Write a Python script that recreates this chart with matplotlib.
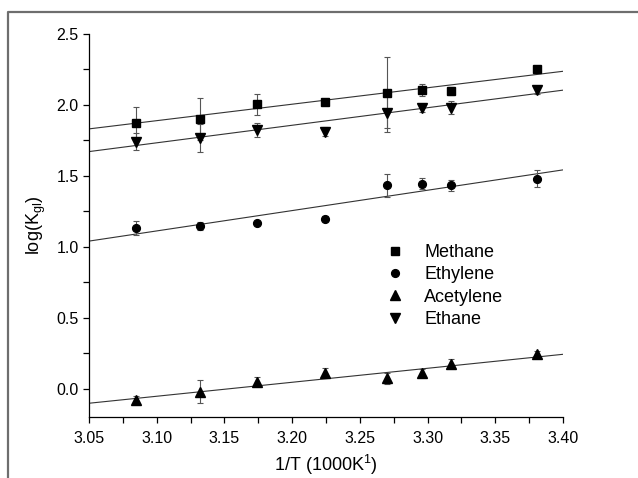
import matplotlib
matplotlib.use("Agg")
import matplotlib.pyplot as plt
from matplotlib.lines import Line2D

plt.rcParams["font.family"] = ["Liberation Sans", "DejaVu Sans"]
plt.rcParams["mathtext.default"] = "regular"

inv_t = [3.085, 3.132, 3.174, 3.224, 3.270, 3.296, 3.317, 3.381]

methane = [1.875, 1.90, 2.005, 2.023, 2.085, 2.106, 2.099, 2.254]
methane_err = [0.11, 0.15, 0.075, 0.02, 0.25, 0.04, 0.03, 0.02]

ethylene = [1.132, 1.146, 1.167, 1.199, 1.434, 1.444, 1.434, 1.481]
ethylene_err = [0.05, 0.03, 0.01, 0.02, 0.08, 0.04, 0.04, 0.06]

acetylene = [-0.08, -0.021, 0.049, 0.113, 0.073, 0.11, 0.176, 0.246]
acetylene_err = [0.03, 0.08, 0.03, 0.03, 0.04, 0.03, 0.03, 0.02]

ethane = [1.742, 1.765, 1.824, 1.812, 1.946, 1.977, 1.981, 2.106]
ethane_err = [0.06, 0.10, 0.05, 0.03, 0.14, 0.03, 0.045, 0.03]

# fitted lines, values at x = 3.05 and x = 3.40
fit_x = [3.05, 3.40]
methane_fit = [1.831, 2.237]
ethylene_fit = [1.04, 1.542]
acetylene_fit = [-0.103, 0.242]
ethane_fit = [1.671, 2.104]

fig = plt.figure(figsize=(6.38, 4.78), dpi=100)
ax = fig.add_axes([0.1395, 0.1276, 0.7429, 0.8013])

series = [
    ("Methane", methane, methane_err, methane_fit, "s", 5.5),
    ("Ethylene", ethylene, ethylene_err, ethylene_fit, "o", 5.6),
    ("Acetylene", acetylene, acetylene_err, acetylene_fit, "^", 6.5),
    ("Ethane", ethane, ethane_err, ethane_fit, "v", 6.5),
]

for name, y, err, fit, mk, ms in series:
    ax.plot(fit_x, fit, color="#333333", lw=0.8, zorder=1)
    ax.errorbar(inv_t, y, yerr=err, fmt="none", ecolor="#555555",
                elinewidth=0.8, capsize=2.5, capthick=0.8, zorder=2)
    ax.plot(inv_t, y, linestyle="none", marker=mk, ms=ms, color="black",
            label=name, zorder=3)

ax.set_xlim(3.05, 3.40)
ax.set_ylim(-0.2, 2.5)
ax.set_xticks([3.05, 3.10, 3.15, 3.20, 3.25, 3.30, 3.35, 3.40])
ax.set_xticks([3.075, 3.125, 3.175, 3.225, 3.275, 3.325, 3.375], minor=True)
ax.set_yticks([0.0, 0.5, 1.0, 1.5, 2.0, 2.5])
ax.set_yticks([0.25, 0.75, 1.25, 1.75, 2.25], minor=True)
ax.xaxis.set_major_formatter(matplotlib.ticker.FormatStrFormatter("%.2f"))
ax.yaxis.set_major_formatter(matplotlib.ticker.FormatStrFormatter("%.1f"))
ax.tick_params(which="both", direction="out", length=4, width=0.9, labelsize=11.5)
ax.tick_params(axis="x", pad=6)

ax.spines["top"].set_visible(False)
ax.spines["right"].set_visible(False)
ax.spines["left"].set_linewidth(0.9)
ax.spines["bottom"].set_linewidth(0.9)

ax.set_xlabel("1/T (1000K$^{1}$)", fontsize=13)
ax.xaxis.set_label_coords(0.5, -0.094)
ax.set_ylabel("log(K$_{gl}$)", fontsize=13, labelpad=6)

ax.legend(loc="upper left", bbox_to_anchor=(0.627, 0.452), frameon=False,
          fontsize=13, handlelength=1.0, handletextpad=1.1,
          labelspacing=0.3, borderpad=0, borderaxespad=0)

# outer frame (left and top edges)
fig.add_artist(Line2D([0.0125, 0.0125, 1.0], [0.0, 0.975, 0.975],
                      transform=fig.transFigure, color="#6e6e6e", lw=1.6))

fig.savefig("out.png", dpi=100)
